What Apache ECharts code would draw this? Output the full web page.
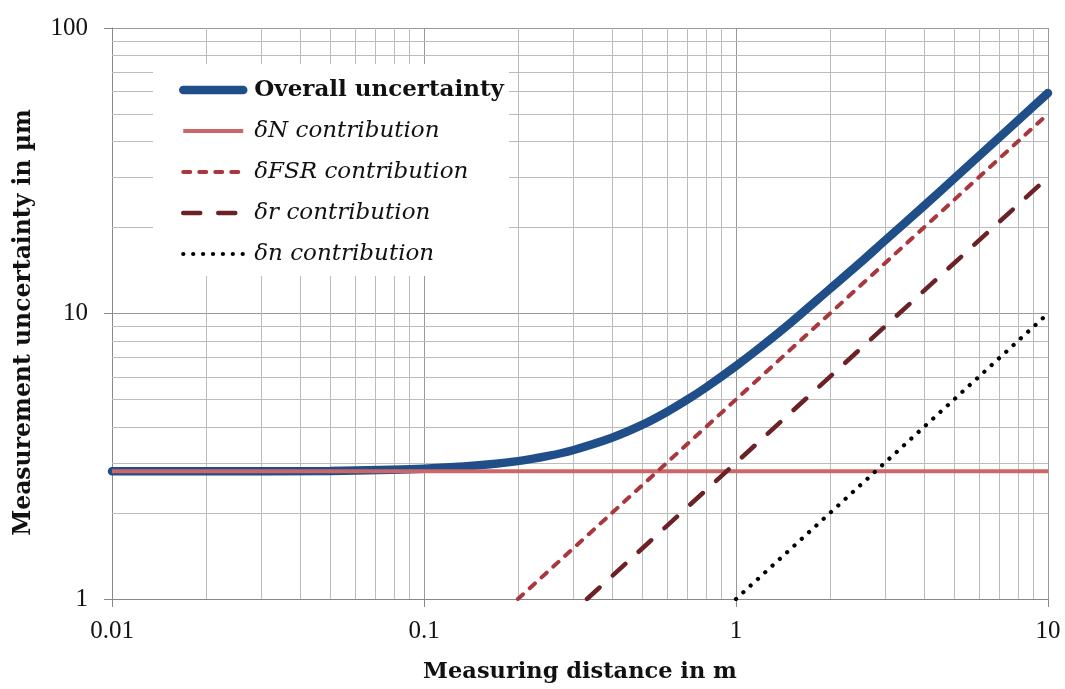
<!DOCTYPE html>
<html>
<head>
<meta charset="utf-8">
<script src="https://cdn.jsdelivr.net/npm/echarts@6/dist/echarts.min.js"></script>
<style>
html,body{margin:0;padding:0;background:#fff;}
#chart{width:1065px;height:689px;}
</style>
</head>
<body>
<div id="chart"></div>
<script>
// Data
var seriesNames = ['Overall uncertainty', 'δN contribution', 'δFSR contribution', 'δr contribution', 'δn contribution'];
var overallX = [0.01, 0.02, 0.05, 0.1, 0.15, 0.2, 0.25, 0.3, 0.4, 0.5, 0.6, 0.7, 0.8, 1, 1.2, 1.5, 2, 2.5, 3, 4, 5, 6, 7, 8, 10];
var overallY = [2.8, 2.8, 2.81, 2.86, 2.94, 3.04, 3.17, 3.32, 3.67, 4.07, 4.52, 5.0, 5.5, 6.55, 7.63, 9.3, 12.2, 15.05, 18.0, 23.8, 29.7, 35.6, 41.5, 47.4, 59.2];
var dNX = [0.01, 10];
var dNY = [2.8, 2.8];
var dFSRX = [0.2, 10];
var dFSRY = [1, 50];
var drX = [0.333, 10];
var drY = [1, 30];
var dnX = [1, 10];
var dnY = [1, 10];
var minorGridX = [0.02,0.03,0.04,0.05,0.06,0.07,0.08,0.09,0.2,0.3,0.4,0.5,0.6,0.7,0.8,0.9,2,3,4,5,6,7,8,9];
var minorGridY = [2,3,4,5,6,7,8,9,20,30,40,50,60,70,80,90];

function pairs(xs, ys){ return xs.map(function(x,i){ return [x, ys[i]]; }); }

var FONT = 'Liberation Serif';
var FONT2 = 'DejaVu Serif';
var chart = echarts.init(document.getElementById('chart'), null, {renderer:'canvas'});

var minorLines = [];
minorGridX.forEach(function(v){ minorLines.push({xAxis: v}); });
minorGridY.forEach(function(v){ minorLines.push({yAxis: v}); });

var styles = [
  {color: '#1f4e89', width: 8.5, type: 'solid', cap: 'round'},
  {color: '#cd6767', width: 4, type: 'solid', cap: 'butt'},
  {color: '#a8383d', width: 4, type: [7, 9], cap: 'round'},
  {color: '#6b2227', width: 4.5, type: [17, 18], cap: 'round'},
  {color: '#000000', width: 4.2, type: [0.1, 9.8], cap: 'round'}
];
var textStyles = [{fontWeight: 'bold'}, {fontStyle: 'italic'}, {fontStyle: 'italic'}, {fontStyle: 'italic'}, {fontStyle: 'italic'}];
var datas = [pairs(overallX, overallY), pairs(dNX, dNY), pairs(dFSRX, dFSRY), pairs(drX, drY), pairs(dnX, dnY)];

var option = {
  backgroundColor: '#fff',
  animation: false,
  grid: {left: 112, right: 17, top: 28, bottom: 88},
  xAxis: {
    type: 'log', logBase: 10, min: 0.01, max: 10,
    name: 'Measuring distance in m', nameLocation: 'middle', nameGap: 62,
    nameTextStyle: {fontFamily: FONT2, fontSize: 22.5, fontWeight: 'bold', color: '#111'},
    axisLine: {show: true, lineStyle: {color: '#888', width: 1}},
    axisTick: {show: true, length: 8, lineStyle: {color: '#888'}},
    axisLabel: {fontFamily: FONT, fontSize: 25, color: '#111', margin: 20,
      formatter: function(v){ return String(+(+v).toPrecision(3)); }},
    splitLine: {show: true, lineStyle: {color: '#999', width: 1}}
  },
  yAxis: {
    type: 'log', logBase: 10, min: 1, max: 100,
    name: 'Measurement uncertainty in µm', nameLocation: 'middle', nameGap: 76,
    nameTextStyle: {fontFamily: FONT2, fontSize: 23.5, fontWeight: 'bold', color: '#111', padding: [0, 18, 0, 0]},
    axisLine: {show: true, lineStyle: {color: '#888', width: 1}},
    axisTick: {show: true, length: 8, lineStyle: {color: '#888'}},
    axisLabel: {fontFamily: FONT, fontSize: 25, color: '#111', margin: 24,
      formatter: function(v){ return String(+(+v).toPrecision(3)); }},
    splitLine: {show: true, lineStyle: {color: '#999', width: 1}}
  },
  legend: {
    orient: 'vertical', left: 153, top: 64,
    padding: [14, 5, 10, 26],
    backgroundColor: '#fff',
    itemWidth: 60, itemHeight: 14, itemGap: 17,
    itemStyle: {opacity: 0},
    textStyle: {fontFamily: FONT2, fontSize: 23, color: '#111', lineHeight: 24, padding: [0, 0, 0, 6]},
    data: seriesNames.map(function(n, i){
      return {name: n, textStyle: textStyles[i], itemStyle: {opacity: 0},
        lineStyle: {color: styles[i].color, width: styles[i].width, type: styles[i].type, cap: styles[i].cap}};
    })
  },
  series: [
    {
      name: 'minor-grid', type: 'line', data: [], silent: true, z: 1,
      markLine: {silent: true, z: 1, symbol: 'none', label: {show: false},
        lineStyle: {color: '#bcbcbc', width: 1, type: 'solid'}, data: minorLines}
    }
  ].concat(seriesNames.map(function(n, i){
    return {name: n, type: 'line', data: datas[i], showSymbol: false, symbol: 'none',
      smooth: i === 0 ? 0.3 : false,
      lineStyle: styles[i], itemStyle: {color: styles[i].color}, z: 3 + i};
  }))
};
chart.setOption(option);
</script>
</body>
</html>
